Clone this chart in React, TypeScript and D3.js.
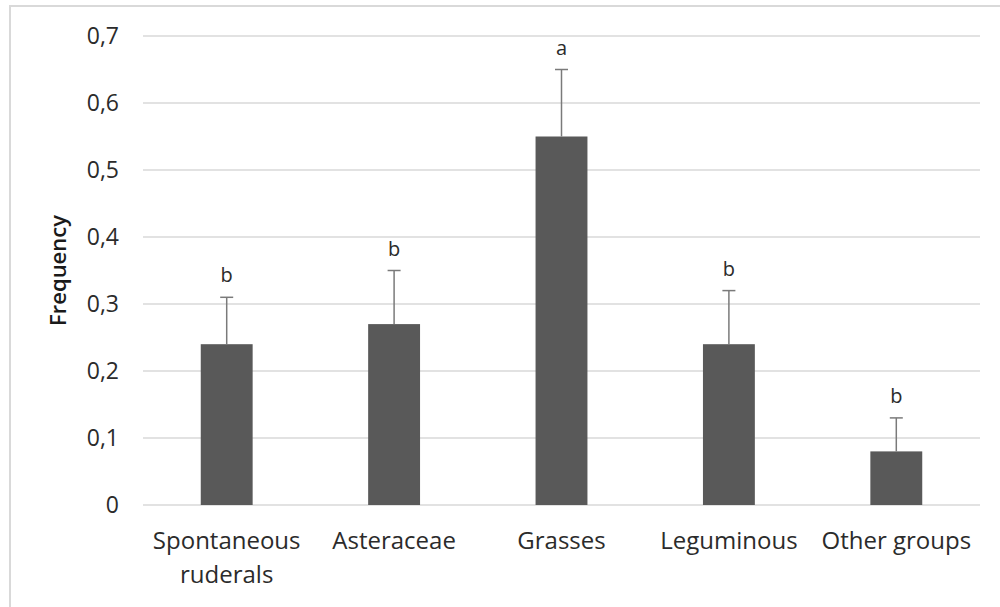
import React from 'react';
import * as d3 from 'd3';

const categories = ['Spontaneous ruderals', 'Asteraceae', 'Grasses', 'Leguminous', 'Other groups'];
const categoryLines = [['Spontaneous', 'ruderals'], ['Asteraceae'], ['Grasses'], ['Leguminous'], ['Other groups']];
const frequency = [0.24, 0.27, 0.55, 0.24, 0.08];
const errorUp = [0.07, 0.08, 0.10, 0.08, 0.05];
const letters = ['b', 'b', 'a', 'b', 'b'];
const yTicks = [0, 0.1, 0.2, 0.3, 0.4, 0.5, 0.6, 0.7];

export default function App() {
  const w = 1000;
  const h = 607;
  const left = 143;
  const right = 980;
  const top = 36;
  const bottom = 505;
  const font = '"Open Sans", "Noto Sans", sans-serif';

  // scales
  const x = d3.scaleBand().domain(categories).range([left, right]).paddingInner(0.69).paddingOuter(0.345);
  const y = d3.scaleLinear().domain([0, 0.7]).range([bottom, top]);
  const fmt = (v: number) => (v === 0 ? '0' : d3.format('.1f')(v).replace('.', ','));

  return (
    <svg width={w} height={h} style={{ position: 'absolute', left: 0, top: 0, background: '#fff' }}>
      <rect x={10} y={6} width={1000} height={700} fill="#fff" stroke="#d9d9d9" strokeWidth={2} />
      {/* gridlines + y labels */}
      {yTicks.map((t) => (
        <g key={t}>
          <line x1={left} x2={right} y1={y(t)} y2={y(t)} stroke="#d9d9d9" strokeWidth={1.3} />
          <text x={119} y={y(t)} dy="0.35em" textAnchor="end" fontFamily={font} fontSize={23} fill="#2b2b2b">
            {fmt(t)}
          </text>
        </g>
      ))}
      {/* bars */}
      {categories.map((c, i) => {
        const bx = x(c)!;
        const cx = bx + x.bandwidth() / 2;
        const topErr = y(frequency[i] + errorUp[i]);
        return (
          <g key={c}>
            <rect x={bx} y={y(frequency[i])} width={x.bandwidth()} height={y(0) - y(frequency[i])} fill="#595959" />
            <line x1={cx} x2={cx} y1={y(frequency[i])} y2={topErr} stroke="#7a7a7a" strokeWidth={1.5} />
            <line x1={cx - 6.5} x2={cx + 6.5} y1={topErr} y2={topErr} stroke="#7a7a7a" strokeWidth={1.5} />
            <text x={cx} y={topErr - 15} textAnchor="middle" fontFamily={font} fontSize={20} fill="#2b2b2b">
              {letters[i]}
            </text>
            {categoryLines[i].map((ln, j) => (
              <text key={j} x={cx} y={549 + j * 34} textAnchor="middle" fontFamily={font} fontSize={24} fill="#2b2b2b">
                {ln}
              </text>
            ))}
          </g>
        );
      })}
      <text
        transform={`translate(66, ${(top + bottom) / 2}) rotate(-90)`}
        textAnchor="middle"
        fontFamily={font}
        fontSize={22}
        fontWeight={600}
        fill="#1a1a1a"
      >
        Frequency
      </text>
    </svg>
  );
}
